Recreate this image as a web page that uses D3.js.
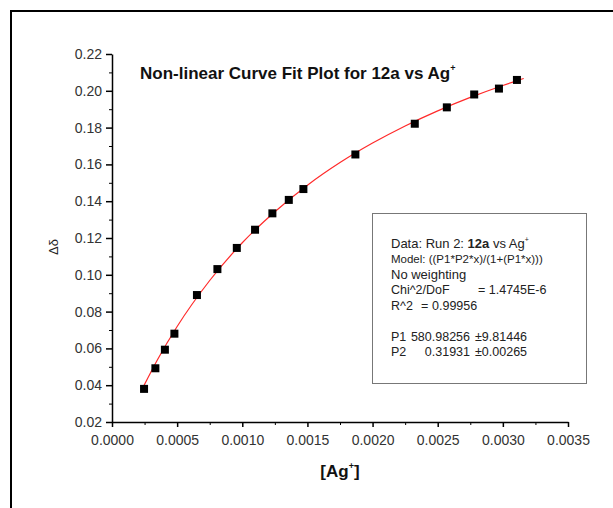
<!DOCTYPE html>
<html>
<head>
<meta charset="utf-8">
<script src="https://cdn.jsdelivr.net/npm/d3@7"></script>
<style>
  body { margin: 0; background: #fff; }
  svg { display: block; font-family: "Liberation Sans", Arial, sans-serif; }
</style>
</head>
<body>
<script>
// measured points (delta shift vs [Ag+])
var agConc = [0.000246, 0.000333, 0.000406, 0.000479, 0.000652, 0.000809, 0.000958,
              0.001098, 0.001231, 0.001357, 0.001469, 0.001868, 0.002324, 0.002570,
              0.002780, 0.002970, 0.003108];
var deltaShift = [0.0380, 0.0492, 0.0593, 0.0680, 0.0890, 0.1031, 0.1146,
                  0.1245, 0.1334, 0.1407, 0.1466, 0.1654, 0.1821, 0.1910,
                  0.1980, 0.2012, 0.2059];

// fitted curve
var fitX = [0.00024, 0.00035, 0.0005, 0.00075, 0.0010, 0.00125, 0.0015, 0.00175,
            0.0020, 0.00225, 0.0025, 0.00275, 0.0030, 0.00316];
var fitY = [0.0391, 0.0540, 0.0719, 0.0969, 0.1174, 0.1343, 0.1487, 0.1610,
            0.1716, 0.1809, 0.1891, 0.1964, 0.2029, 0.2067];

var xTicks = [0.0000, 0.0005, 0.0010, 0.0015, 0.0020, 0.0025, 0.0030, 0.0035];
var xMinor = [0.00025, 0.00075, 0.00125, 0.00175, 0.00225, 0.00275, 0.00325];
var yTicks = [0.02, 0.04, 0.06, 0.08, 0.10, 0.12, 0.14, 0.16, 0.18, 0.20, 0.22];
var yMinor = [0.03, 0.05, 0.07, 0.09, 0.11, 0.13, 0.15, 0.17, 0.19, 0.21];

var fitInfo = [
  ["Data: Run 2: ", "12a", " vs Ag", "+"],
  ["Model: ((P1*P2*x)/(1+(P1*x)))"],
  ["No weighting"],
  ["Chi^2/DoF", "= 1.4745E-6"],
  ["R^2", "=", "0.99956"],
  ["P1", "580.98256", "\u00b19.81446"],
  ["P2", "0.31931", "\u00b10.00265"]
];

var width = 613, height = 508;

var svg = d3.select("body").append("svg")
    .attr("width", width)
    .attr("height", height);

// outer frame (left + top visible)
svg.append("path")
    .attr("d", "M11," + (height + 2) + "V11H" + (width + 2))
    .attr("fill", "none")
    .attr("stroke", "#000")
    .attr("stroke-width", 2);

var x = d3.scaleLinear().domain([0, 0.0035]).range([112, 568]);
var y = d3.scaleLinear().domain([0.02, 0.22]).range([422, 54]);

// minor ticks
svg.append("g")
    .attr("transform", "translate(0,422)")
    .call(d3.axisBottom(x).tickValues(xMinor).tickSize(3).tickFormat(""))
    .call(g => g.select(".domain").remove());
svg.append("g")
    .attr("transform", "translate(112,0)")
    .call(d3.axisLeft(y).tickValues(yMinor).tickSize(3).tickFormat(""))
    .call(g => g.select(".domain").remove());

// main axes
var xAxis = svg.append("g")
    .attr("transform", "translate(0,422)")
    .call(d3.axisBottom(x).tickValues(xTicks).tickSize(5).tickSizeOuter(0)
          .tickPadding(8).tickFormat(d3.format(".4f")));
var yAxis = svg.append("g")
    .attr("transform", "translate(112,0)")
    .call(d3.axisLeft(y).tickValues(yTicks).tickSize(6).tickSizeOuter(0)
          .tickPadding(4).tickFormat(d3.format(".2f")));

[xAxis, yAxis].forEach(function(g) {
  g.selectAll(".domain, line").attr("stroke", "#000").attr("stroke-width", 1.5);
  g.selectAll("text").attr("font-size", 14).attr("fill", "#333")
    .attr("font-family", "Liberation Sans, Arial, sans-serif");
});

// fit curve
var line = d3.line()
    .x(function(d, i) { return x(fitX[i]); })
    .y(function(d, i) { return y(fitY[i]); })
    .curve(d3.curveMonotoneX);
svg.append("path")
    .datum(fitX)
    .attr("d", line)
    .attr("fill", "none")
    .attr("stroke", "#ff2a2a")
    .attr("stroke-width", 1.2);

// data markers
var sz = 8;
svg.append("g").selectAll("rect")
    .data(agConc)
    .join("rect")
    .attr("x", function(d) { return x(d) - sz / 2; })
    .attr("y", function(d, i) { return y(deltaShift[i]) - sz / 2; })
    .attr("width", sz)
    .attr("height", sz)
    .attr("fill", "#000");

// title
var title = svg.append("text")
    .attr("x", 140)
    .attr("y", 79)
    .attr("font-size", 17)
    .attr("font-weight", "bold")
    .attr("fill", "#111")
    .text("Non-linear Curve Fit Plot for 12a vs Ag");
title.append("tspan").attr("dy", -8).attr("font-size", 9).text("+");

// axis titles
var xt = svg.append("text")
    .attr("x", 340)
    .attr("y", 477)
    .attr("text-anchor", "middle")
    .attr("font-size", 17)
    .attr("font-weight", "bold")
    .attr("fill", "#111")
    .text("[Ag");
xt.append("tspan").attr("dy", -8).attr("font-size", 9).text("+");
xt.append("tspan").attr("dy", 8).text("]");

svg.append("text")
    .attr("transform", "translate(58,247) rotate(-90)")
    .attr("text-anchor", "middle")
    .attr("font-size", 13)
    .attr("fill", "#222")
    .text("\u0394\u03b4");

// fit info box
svg.append("rect")
    .attr("x", 372.5)
    .attr("y", 213.5)
    .attr("width", 214)
    .attr("height", 170)
    .attr("fill", "#fff")
    .attr("stroke", "#777")
    .attr("stroke-width", 1);

var tx = 391;
var baselines = [247.5, 263, 278.5, 294, 309.5, 340.5, 356];
var info = svg.append("g").attr("font-size", 12.5).attr("fill", "#222");

var t0 = info.append("text").attr("x", tx).attr("y", baselines[0]).attr("font-size", 13);
t0.append("tspan").text(fitInfo[0][0]);
t0.append("tspan").attr("font-weight", "bold").text(fitInfo[0][1]);
t0.append("tspan").text(fitInfo[0][2]);
t0.append("tspan").attr("dy", -6).attr("font-size", 7).text(fitInfo[0][3]);

info.append("text").attr("x", tx).attr("y", baselines[1])
    .attr("font-size", 11.5).text(fitInfo[1][0]);
info.append("text").attr("x", tx).attr("y", baselines[2])
    .attr("font-size", 13).text(fitInfo[2][0]);

info.append("text").attr("x", tx).attr("y", baselines[3]).text(fitInfo[3][0]);
info.append("text").attr("x", 478).attr("y", baselines[3]).text(fitInfo[3][1]);

info.append("text").attr("x", tx).attr("y", baselines[4]).text(fitInfo[4][0]);
info.append("text").attr("x", 421).attr("y", baselines[4]).text(fitInfo[4][1]);
info.append("text").attr("x", 432).attr("y", baselines[4]).text(fitInfo[4][2]);

[5, 6].forEach(function(k) {
  info.append("text").attr("x", tx).attr("y", baselines[k]).text(fitInfo[k][0]);
  info.append("text").attr("x", 470).attr("y", baselines[k])
      .attr("text-anchor", "end").text(fitInfo[k][1]);
  info.append("text").attr("x", 475).attr("y", baselines[k]).text(fitInfo[k][2]);
});
</script>
</body>
</html>
